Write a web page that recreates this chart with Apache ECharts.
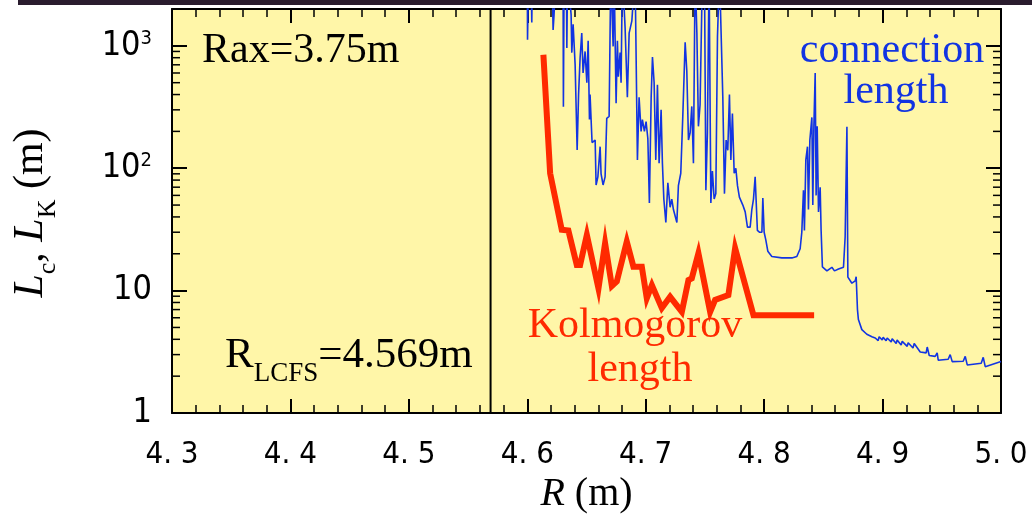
<!DOCTYPE html>
<html><head><meta charset="utf-8">
<script src="https://cdn.jsdelivr.net/npm/echarts@6/dist/echarts.min.js"></script>
<style>html,body{margin:0;padding:0;background:#fff}#c{width:1032px;height:515px}#d{position:absolute;left:180px;top:120px;font:11px monospace;color:#000;width:300px;white-space:pre-wrap}</style>
</head><body><div id="c"></div><div id="d"></div>
<script>
const dbg = [];
const showDbg = () => { document.getElementById('d').textContent = dbg.join('\n'); };
window.onerror = (m, s, l, c) => { dbg.push('ERR ' + m + ' @' + l + ':' + c); showDbg(); };

// ---------- data ----------
const xMin = 4.3, xMax = 5.0, xStep = 0.1;
const yMin = 1, yMax = 2000;
const xTickLabels = ['4. 3','4. 4','4. 5','4. 6','4. 7','4. 8','4. 9','5. 0'];
const yTickLabels = {1: '1', 10: '10', 100: '10{sup|2}', 1000: '10{sup|3}'};
const yMinorTicks = [2,3,4,5,6,7,8,9,20,30,40,50,60,70,80,90,200,300,400,500,600,700,800,900];
const rLCFS = 4.569;

// connection length (values above the top edge are off-scale)
const lcR = [4.6000,4.6002,4.6011,4.6032,4.6038,4.6043,4.6209,4.6218,4.6226,4.6243,
  4.6302,4.6305,4.6311,4.6330,4.6334,4.6340,4.6370,4.6376,4.6387,4.6404,
  4.6421,4.6433,4.6446,4.6460,4.6471,4.6488,4.6503,4.6514,4.6525,4.6530,
  4.6547,4.6573,4.6581,4.6596,4.6615,4.6623,4.6640,4.6657,4.6671,4.6691,
  4.6705,4.6725,4.6733,4.6750,4.6761,4.6769,4.6784,4.6792,4.6803,4.6826,
  4.6845,4.6860,4.6883,4.6910,4.6930,4.6944,4.6961,4.6972,4.6989,4.7003,
  4.7018,4.7031,4.7046,4.7057,4.7071,4.7085,4.7099,4.7113,4.7130,4.7141,
  4.7153,4.7170,4.7187,4.7206,4.7220,4.7234,4.7263,4.7276,4.7296,4.7313,
  4.7333,4.7347,4.7361,4.7375,4.7389,4.7403,4.7417,4.7432,4.7445,4.7459,
  4.7479,4.7496,4.7508,4.7521,4.7535,4.7550,4.7563,4.7578,4.7592,4.7606,
  4.7623,4.7637,4.7651,4.7665,4.7679,4.7693,4.7707,4.7719,4.7732,4.7747,
  4.7761,4.7775,4.7791,4.7806,4.7820,4.7840,4.7859,4.7882,4.7896,4.7910,
  4.7924,4.7943,4.7960,4.7981,4.7989,4.8000,4.8014,4.8031,4.8065,4.8149,
  4.8234,4.8276,4.8304,4.8318,4.8332,4.8340,4.8352,4.8366,4.8374,4.8386,
  4.8403,4.8411,4.8420,4.8431,4.8439,4.8448,4.8459,4.8473,4.8481,4.8492,
  4.8530,4.8572,4.8594,4.8628,4.8670,4.8676,4.8684,4.8699,4.8707,4.8741,
  4.8769,4.8777,4.8788,4.8796,4.8825,4.8867,4.8910,4.8938,4.8963,4.8971,
  4.8997,4.9005,4.9030,4.9039,4.9073,4.9081,4.9115,4.9123,4.9157,4.9166,
  4.9208,4.9216,4.9257,4.9267,4.9318,4.9368,4.9377,4.9394,4.9444,4.9461,
  4.9470,4.9554,4.9571,4.9588,4.9681,4.9698,4.9715,4.9833,4.9850,4.9867,5.0000];
const lcVal = [4000,1120,4000,4000,1550,4000,4000,1350,1800,4000,
  4000,318,4000,4000,960,4000,1800,880,1500,700,
  141,400,800,1270,600,900,500,1100,250,400,
  162,170,73,85,150,90,73,85,256,265,
  4000,990,4000,340,1100,560,880,500,4000,1400,
  380,1270,1600,4000,117,380,200,250,200,240,
  175,52,380,810,500,117,480,110,300,110,
  56,36,76,48,56,46,36,72,91,264,
  1070,620,170,195,320,110,4000,1270,220,330,
  4000,4000,66,195,4000,52,95,56,62,1200,
  4000,4000,380,62,170,140,400,117,280,91,
  100,72,58,58,50,44,33,33,46,56,
  85,31,30,30,57,30,26,21,19,18.5,
  18.5,19,22,30,66,31,117,150,46,170,
  260,50,220,600,60,220,44,70,31,15.6,
  14.5,15.5,14.5,15,15.5,15.6,27.5,218,12.9,11.5,
  12,13,7,5.8,4.8,4.4,4.2,4.1,3.9,4.2,
  3.95,4.15,3.9,4.1,3.8,4.05,3.7,3.95,3.6,3.85,
  3.5,3.75,3.4,3.7,3.15,3.1,3.46,2.95,2.9,3.1,
  2.7,2.75,3.0,2.63,2.65,2.9,2.47,2.55,2.85,2.39,2.63];

// Kolmogorov length
const lkR = [4.6136,4.6193,4.6291,4.6347,4.6418,4.6446,4.6503,4.6601,4.6657,4.6714,
  4.6756,4.6840,4.6896,4.6967,4.7009,4.7052,4.7136,4.7206,4.7305,4.7361,
  4.7389,4.7445,4.7544,4.7586,4.7698,4.7755,4.7910,4.8422];
const lkVal = [846,91,31.4,31,16.2,16.2,28.5,10.4,24.4,10.9,
  11.9,25.2,15.7,15.7,8.66,11.1,7.2,8.9,6.7,12.2,
  12.6,20.2,6.7,8.4,9.2,22.2,6.3,6.3];

// ---------- styles ----------
const BLUE = '#1234e2', RED = '#ff2a00', BG = '#fff6a8';
const SERIF = '"Liberation Serif","Times New Roman",serif';
const NARROW = '"Liberation Sans Narrow","DejaVu Sans Condensed","Liberation Sans",sans-serif';

const zip = (a, b) => a.map((v, i) => [v, b[i]]);

const axisCommonX = {
  type: 'value', min: xMin, max: xMax, interval: xStep,
  axisLine: {show: true, onZero: false, lineStyle: {color: '#000', width: 2}},
  axisTick: {show: true, inside: true, length: 14, lineStyle: {color: '#000', width: 2}},
  minorTick: {show: true, splitNumber: 5, length: 8, lineStyle: {color: '#000', width: 1.5}},
  splitLine: {show: false}, minorSplitLine: {show: false}
};
const axisCommonY = {
  type: 'log', logBase: 10, min: yMin, max: yMax,
  axisLine: {show: true, onZero: false, lineStyle: {color: '#000', width: 2}},
  axisTick: {show: true, inside: true, length: 15, lineStyle: {color: '#000', width: 2}},
  splitLine: {show: false}
};

const textEl = (x, y, text, fill, align) => ({type: 'text', x: x, y: y, silent: true, z: 10,
  style: {text: text, font: '42px ' + SERIF, fill: fill, textAlign: align, textVerticalAlign: 'middle', align: align, verticalAlign: 'middle'}});

const chart = echarts.init(document.getElementById('c'));
try {
chart.setOption({
  animation: false,
  grid: {left: 172, top: 9, width: 829, height: 404, show: true, backgroundColor: BG, borderWidth: 0, outerBoundsMode: 'none'},
  xAxis: [
    Object.assign({}, axisCommonX, {
      position: 'bottom',
      axisLabel: {show: true, margin: 26, fontSize: 31, fontFamily: NARROW, color: '#000',
        formatter: v => xTickLabels[Math.round((v - xMin) / xStep)] || ''},
      name: '{i|R} (m)', nameLocation: 'middle', nameGap: 58,
      nameTextStyle: {fontFamily: SERIF, fontSize: 40, color: '#000',
        rich: {i: {fontFamily: SERIF, fontSize: 40, fontStyle: 'italic', color: '#000'}}}
    }),
    Object.assign({}, axisCommonX, {position: 'top', axisLabel: {show: false}})
  ],
  yAxis: [
    Object.assign({}, axisCommonY, {
      position: 'left',
      axisLabel: {show: true, margin: 20, fontSize: 34, fontFamily: NARROW, color: '#000',
        showMaxLabel: false,
        formatter: v => yTickLabels[Math.round(v)] || '',
        rich: {sup: {fontSize: 20, fontFamily: NARROW, color: '#000', padding: [0, 0, 14, 0]}}}
    }),
    Object.assign({}, axisCommonY, {position: 'right', axisLabel: {show: false}})
  ],
  series: [
    {
      type: 'custom', xAxisIndex: 0, yAxisIndex: 0, silent: true, z: 30, clip: false,
      data: yMinorTicks.map(v => [xMin, v]),
      renderItem: function (params, api) {
        const v = api.value(1);
        const l = api.coord([xMin, v]);
        const r = api.coord([xMax, v]);
        return {type: 'group', children: [
          {type: 'line', shape: {x1: l[0], y1: l[1], x2: l[0] + 8, y2: l[1]}, style: {stroke: '#000', lineWidth: 1.5}},
          {type: 'line', shape: {x1: r[0] - 8, y1: r[1], x2: r[0], y2: r[1]}, style: {stroke: '#000', lineWidth: 1.5}}
        ]};
      }
    },
    {
      name: 'R_LCFS', type: 'line', xAxisIndex: 0, yAxisIndex: 0, silent: true,
      data: zip([rLCFS, rLCFS], [yMin, yMax]), showSymbol: false, symbol: 'none',
      lineStyle: {color: '#000', width: 2}, z: 2
    },
    {
      name: 'connection length', type: 'line', xAxisIndex: 0, yAxisIndex: 0,
      data: zip(lcR, lcVal), showSymbol: false, symbol: 'none', clip: true,
      lineStyle: {color: BLUE, width: 1.6}, z: 3
    },
    {
      name: 'Kolmogorov length', type: 'line', xAxisIndex: 0, yAxisIndex: 0,
      data: zip(lkR, lkVal), showSymbol: false, symbol: 'none', clip: true,
      lineStyle: {color: RED, width: 6, join: 'miter'}, z: 4
    }
  ],
  graphic: [
    {type: 'rect', shape: {x: 18, y: 0, width: 1014, height: 5}, style: {fill: '#2a1c2e'}, silent: true},
    {type: 'text', x: 31, y: 213, rotation: Math.PI / 2, silent: true, z: 10,
      style: {text: '{lc|L}{sc|c}{bk|, }{lk|L}{sk|K}{bk| (m)}', font: '42px ' + SERIF, fill: '#000',
        textAlign: 'center', textVerticalAlign: 'middle', align: 'center', verticalAlign: 'middle',
        rich: {
          lc: {fontFamily: SERIF, fontSize: 42, fontStyle: 'italic', color: BLUE},
          sc: {fontFamily: SERIF, fontSize: 26, color: BLUE, padding: [34, 0, 0, 0]},
          lk: {fontFamily: SERIF, fontSize: 42, fontStyle: 'italic', color: RED},
          sk: {fontFamily: SERIF, fontSize: 26, color: RED, padding: [34, 0, 0, 0]},
          bk: {fontFamily: SERIF, fontSize: 42, color: '#000'}
        }}},
    textEl(202, 51, 'Rax=3.75m', '#000', 'left'),
    {type: 'text', x: 225, y: 356, silent: true, z: 10,
      style: {text: '{a|R}{b|LCFS}{a|=4.569m}', font: '42px ' + SERIF, fill: '#000', textAlign: 'left', textVerticalAlign: 'middle', align: 'left', verticalAlign: 'middle',
        rich: {a: {fontFamily: SERIF, fontSize: 43, color: '#000'},
               b: {fontFamily: SERIF, fontSize: 27, color: '#000', padding: [36, 0, 0, 0]}}}},
    textEl(892, 51, 'connection', BLUE, 'center'),
    textEl(896, 92, 'length', BLUE, 'center'),
    textEl(635, 326, 'Kolmogorov', RED, 'center'),
    textEl(640, 370, 'length', RED, 'center')
  ]
});
} catch (e) { dbg.push('CATCH ' + e.message); }
showDbg();
</script>
</body></html>
